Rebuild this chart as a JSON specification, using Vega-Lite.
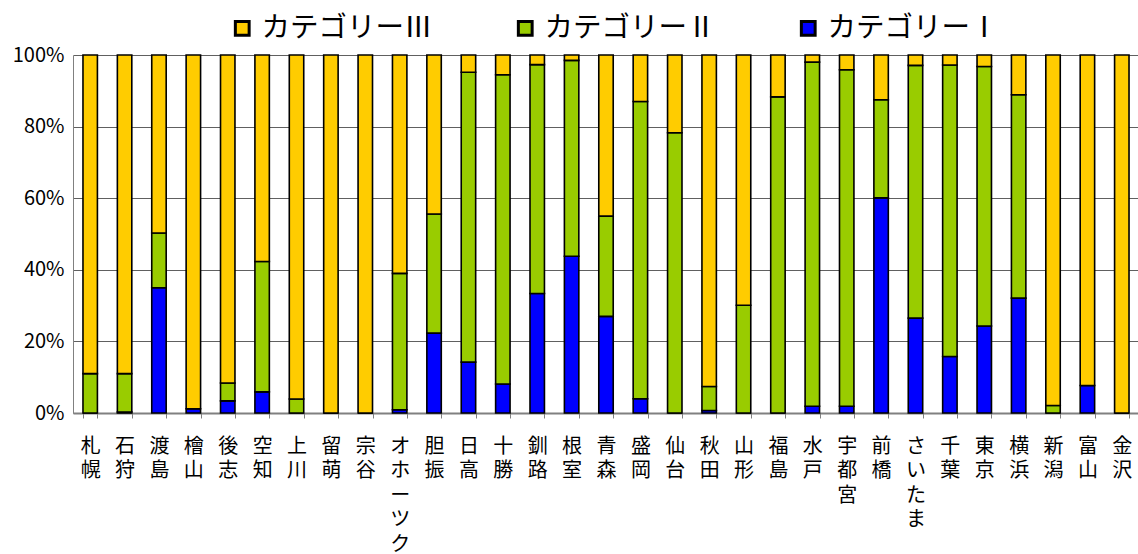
{
  "$schema": "https://vega.github.io/schema/vega-lite/v6.json",
  "autosize": "none",
  "width": 1066,
  "height": 358,
  "padding": {"left": 73, "top": 55, "right": 0, "bottom": 141},
  "config": {
    "view": {"stroke": null},
    "font": "Noto Sans CJK JP"
  },
  "data": {
    "values": [
      {"region": "札幌", "cat": "カテゴリーⅠ", "value": 0},
      {"region": "札幌", "cat": "カテゴリーⅡ", "value": 11},
      {"region": "札幌", "cat": "カテゴリーⅢ", "value": 89},
      {"region": "石狩", "cat": "カテゴリーⅠ", "value": 0.3},
      {"region": "石狩", "cat": "カテゴリーⅡ", "value": 10.7},
      {"region": "石狩", "cat": "カテゴリーⅢ", "value": 89},
      {"region": "渡島", "cat": "カテゴリーⅠ", "value": 35},
      {"region": "渡島", "cat": "カテゴリーⅡ", "value": 15.3},
      {"region": "渡島", "cat": "カテゴリーⅢ", "value": 49.7},
      {"region": "檜山", "cat": "カテゴリーⅠ", "value": 1.2},
      {"region": "檜山", "cat": "カテゴリーⅡ", "value": 0},
      {"region": "檜山", "cat": "カテゴリーⅢ", "value": 98.8},
      {"region": "後志", "cat": "カテゴリーⅠ", "value": 3.4},
      {"region": "後志", "cat": "カテゴリーⅡ", "value": 5},
      {"region": "後志", "cat": "カテゴリーⅢ", "value": 91.6},
      {"region": "空知", "cat": "カテゴリーⅠ", "value": 5.9},
      {"region": "空知", "cat": "カテゴリーⅡ", "value": 36.4},
      {"region": "空知", "cat": "カテゴリーⅢ", "value": 57.7},
      {"region": "上川", "cat": "カテゴリーⅠ", "value": 0},
      {"region": "上川", "cat": "カテゴリーⅡ", "value": 3.9},
      {"region": "上川", "cat": "カテゴリーⅢ", "value": 96.1},
      {"region": "留萌", "cat": "カテゴリーⅠ", "value": 0},
      {"region": "留萌", "cat": "カテゴリーⅡ", "value": 0},
      {"region": "留萌", "cat": "カテゴリーⅢ", "value": 100},
      {"region": "宗谷", "cat": "カテゴリーⅠ", "value": 0},
      {"region": "宗谷", "cat": "カテゴリーⅡ", "value": 0},
      {"region": "宗谷", "cat": "カテゴリーⅢ", "value": 100},
      {"region": "オホーツク", "cat": "カテゴリーⅠ", "value": 0.9},
      {"region": "オホーツク", "cat": "カテゴリーⅡ", "value": 38.1},
      {"region": "オホーツク", "cat": "カテゴリーⅢ", "value": 61},
      {"region": "胆振", "cat": "カテゴリーⅠ", "value": 22.3},
      {"region": "胆振", "cat": "カテゴリーⅡ", "value": 33.3},
      {"region": "胆振", "cat": "カテゴリーⅢ", "value": 44.4},
      {"region": "日高", "cat": "カテゴリーⅠ", "value": 14.2},
      {"region": "日高", "cat": "カテゴリーⅡ", "value": 81},
      {"region": "日高", "cat": "カテゴリーⅢ", "value": 4.8},
      {"region": "十勝", "cat": "カテゴリーⅠ", "value": 8.1},
      {"region": "十勝", "cat": "カテゴリーⅡ", "value": 86.4},
      {"region": "十勝", "cat": "カテゴリーⅢ", "value": 5.5},
      {"region": "釧路", "cat": "カテゴリーⅠ", "value": 33.4},
      {"region": "釧路", "cat": "カテゴリーⅡ", "value": 63.9},
      {"region": "釧路", "cat": "カテゴリーⅢ", "value": 2.7},
      {"region": "根室", "cat": "カテゴリーⅠ", "value": 43.8},
      {"region": "根室", "cat": "カテゴリーⅡ", "value": 54.7},
      {"region": "根室", "cat": "カテゴリーⅢ", "value": 1.5},
      {"region": "青森", "cat": "カテゴリーⅠ", "value": 27},
      {"region": "青森", "cat": "カテゴリーⅡ", "value": 28},
      {"region": "青森", "cat": "カテゴリーⅢ", "value": 45},
      {"region": "盛岡", "cat": "カテゴリーⅠ", "value": 4},
      {"region": "盛岡", "cat": "カテゴリーⅡ", "value": 83},
      {"region": "盛岡", "cat": "カテゴリーⅢ", "value": 13},
      {"region": "仙台", "cat": "カテゴリーⅠ", "value": 0},
      {"region": "仙台", "cat": "カテゴリーⅡ", "value": 78.3},
      {"region": "仙台", "cat": "カテゴリーⅢ", "value": 21.7},
      {"region": "秋田", "cat": "カテゴリーⅠ", "value": 0.7},
      {"region": "秋田", "cat": "カテゴリーⅡ", "value": 6.7},
      {"region": "秋田", "cat": "カテゴリーⅢ", "value": 92.6},
      {"region": "山形", "cat": "カテゴリーⅠ", "value": 0},
      {"region": "山形", "cat": "カテゴリーⅡ", "value": 30.1},
      {"region": "山形", "cat": "カテゴリーⅢ", "value": 69.9},
      {"region": "福島", "cat": "カテゴリーⅠ", "value": 0},
      {"region": "福島", "cat": "カテゴリーⅡ", "value": 88.3},
      {"region": "福島", "cat": "カテゴリーⅢ", "value": 11.7},
      {"region": "水戸", "cat": "カテゴリーⅠ", "value": 1.9},
      {"region": "水戸", "cat": "カテゴリーⅡ", "value": 96.1},
      {"region": "水戸", "cat": "カテゴリーⅢ", "value": 2},
      {"region": "宇都宮", "cat": "カテゴリーⅠ", "value": 1.9},
      {"region": "宇都宮", "cat": "カテゴリーⅡ", "value": 94},
      {"region": "宇都宮", "cat": "カテゴリーⅢ", "value": 4.1},
      {"region": "前橋", "cat": "カテゴリーⅠ", "value": 60.1},
      {"region": "前橋", "cat": "カテゴリーⅡ", "value": 27.4},
      {"region": "前橋", "cat": "カテゴリーⅢ", "value": 12.5},
      {"region": "さいたま", "cat": "カテゴリーⅠ", "value": 26.5},
      {"region": "さいたま", "cat": "カテゴリーⅡ", "value": 70.6},
      {"region": "さいたま", "cat": "カテゴリーⅢ", "value": 2.9},
      {"region": "千葉", "cat": "カテゴリーⅠ", "value": 15.8},
      {"region": "千葉", "cat": "カテゴリーⅡ", "value": 81.4},
      {"region": "千葉", "cat": "カテゴリーⅢ", "value": 2.8},
      {"region": "東京", "cat": "カテゴリーⅠ", "value": 24.3},
      {"region": "東京", "cat": "カテゴリーⅡ", "value": 72.5},
      {"region": "東京", "cat": "カテゴリーⅢ", "value": 3.2},
      {"region": "横浜", "cat": "カテゴリーⅠ", "value": 32.1},
      {"region": "横浜", "cat": "カテゴリーⅡ", "value": 56.8},
      {"region": "横浜", "cat": "カテゴリーⅢ", "value": 11.1},
      {"region": "新潟", "cat": "カテゴリーⅠ", "value": 0},
      {"region": "新潟", "cat": "カテゴリーⅡ", "value": 2.1},
      {"region": "新潟", "cat": "カテゴリーⅢ", "value": 97.9},
      {"region": "富山", "cat": "カテゴリーⅠ", "value": 7.7},
      {"region": "富山", "cat": "カテゴリーⅡ", "value": 0},
      {"region": "富山", "cat": "カテゴリーⅢ", "value": 92.3},
      {"region": "金沢", "cat": "カテゴリーⅠ", "value": 0},
      {"region": "金沢", "cat": "カテゴリーⅡ", "value": 0},
      {"region": "金沢", "cat": "カテゴリーⅢ", "value": 100}
    ]
  },
  "mark": {"type": "bar", "stroke": "black", "strokeWidth": 1.6},
  "encoding": {
    "x": {
      "field": "region",
      "type": "nominal",
      "sort": null,
      "scale": {"paddingInner": 0.58, "paddingOuter": 0.29},
      "axis": {
        "title": null,
        "labelAngle": 0,
        "labelOverlap": false,
        "labelExpr": "split(datum.label, '')",
        "labelFontSize": 20,
        "labelLineHeight": 24.6,
        "labelBaseline": "top",
        "labelPadding": 18,
        "labelColor": "black",
        "labelFont": "Noto Sans CJK JP",
        "tickBand": "extent",
        "tickSize": 5,
        "tickColor": "#808080",
        "domainColor": "#808080",
        "domainWidth": 2,
        "grid": false
      }
    },
    "y": {
      "field": "value",
      "type": "quantitative",
      "stack": "normalize",
      "scale": {"domain": [0, 1]},
      "axis": {
        "title": null,
        "format": ".0%",
        "values": [0, 0.2, 0.4, 0.6, 0.8, 1],
        "ticks": false,
        "labelFontSize": 20,
        "labelPadding": 9,
        "labelColor": "black",
        "labelFont": "Noto Sans CJK JP",
        "domainColor": "#808080",
        "domainWidth": 1,
        "gridColor": "#606060",
        "gridWidth": 1.2
      }
    },
    "color": {
      "field": "cat",
      "type": "nominal",
      "scale": {
        "domain": ["カテゴリーⅢ", "カテゴリーⅡ", "カテゴリーⅠ"],
        "range": ["#FFCC00", "#99CC00", "#0000FF"]
      },
      "legend": {
        "title": null,
        "orient": "none",
        "direction": "horizontal",
        "legendX": 155,
        "legendY": -41,
        "symbolType": "square",
        "symbolSize": 190,
        "symbolStrokeColor": "black",
        "symbolStrokeWidth": 3,
        "symbolOpacity": 1,
        "labelFontSize": 28.5,
        "labelFont": "Noto Sans CJK JP",
        "labelColor": "black",
        "labelOffset": 5,
        "columnPadding": 78,
        "labelLimit": 400
      }
    },
    "order": {"field": "cat", "sort": "ascending"}
  }
}
